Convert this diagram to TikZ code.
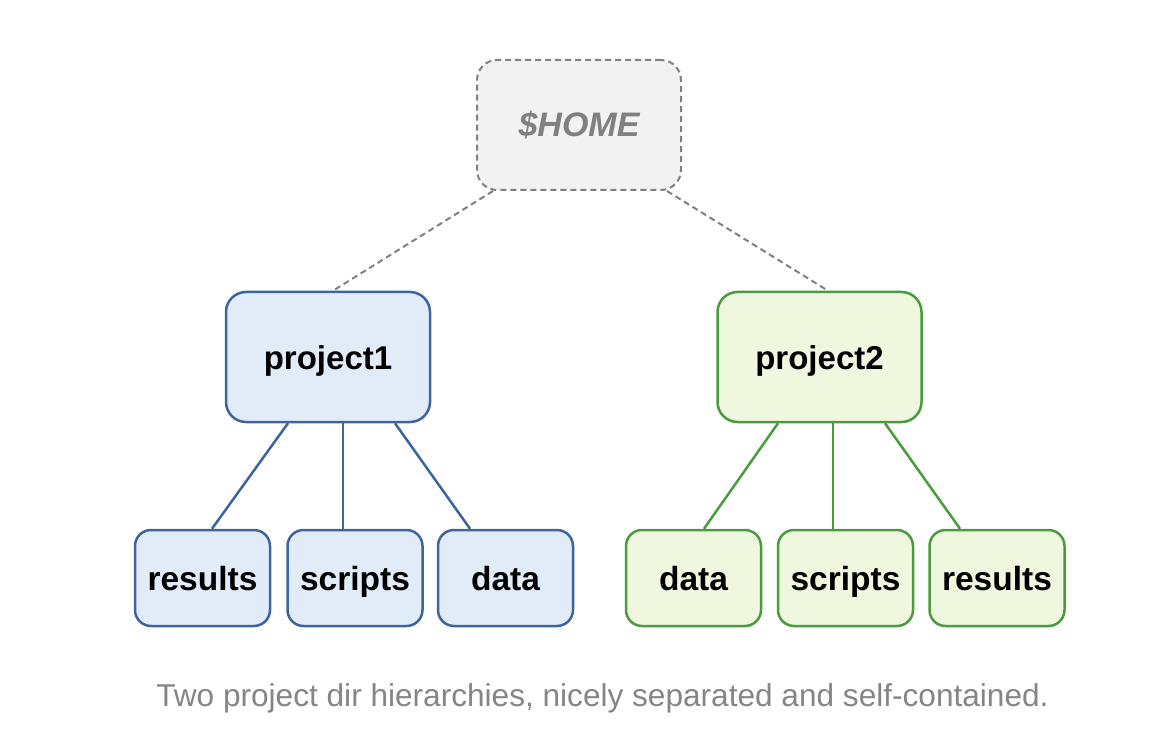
\documentclass[tikz,border=0pt]{standalone}
\usepackage{fontspec}
\setmainfont{Liberation Sans}
\usetikzlibrary{calc}
\definecolor{bstroke}{HTML}{3D64A0}
\definecolor{bfill}{HTML}{E1ECF8}
\definecolor{gstroke}{HTML}{4A9A3E}
\definecolor{gfill}{HTML}{EFF8DF}
\definecolor{hstroke}{HTML}{808080}
\definecolor{hfill}{HTML}{F2F2F2}
\definecolor{captxt}{HTML}{858585}
\tikzset{
  homebox/.style={draw=hstroke, fill=hfill, line width=2pt, dash pattern=on 6pt off 4pt, rounded corners=20pt, minimum width=204pt, minimum height=130pt, inner sep=0pt, text height=23pt, text depth=0pt, font=\fontsize{34}{36}\selectfont\bfseries\itshape, text=hstroke},
  projbox/.style={line width=2.5pt, rounded corners=20pt, minimum width=204pt, minimum height=130pt, inner sep=0pt, text height=24pt, text depth=0pt, font=\fontsize{33}{36}\selectfont\bfseries},
  leafbox/.style={line width=2.5pt, rounded corners=16pt, minimum width=135pt, minimum height=96pt, inner sep=0pt, text height=24pt, text depth=0pt, font=\fontsize{33.5}{36}\selectfont\bfseries},
  blue/.style={draw=bstroke, fill=bfill},
  green/.style={draw=gstroke, fill=gfill},
  bline/.style={draw=bstroke, line width=2.5pt},
  gline/.style={draw=gstroke, line width=2.5pt},
  hline/.style={draw=hstroke, line width=2pt, dash pattern=on 6pt off 4pt},
}
\begin{document}
\begin{tikzpicture}[x=1pt,y=-1pt]
\useasboundingbox (0,0) rectangle (1152,754);
\node[homebox] (home) at (579,125) {\$HOME};
\node[projbox,blue] (p1) at (328,357) {project1};
\node[projbox,green] (p2) at (819.5,357) {project2};
\node[leafbox,blue] (r1) at (202.5,578) {results};
\node[leafbox,blue] (s1) at (355,578) {scripts};
\node[leafbox,blue] (d1) at (505.5,578) {data};
\node[leafbox,green] (d2) at (693.5,578) {data};
\node[leafbox,green] (s2) at (845.5,578) {scripts};
\node[leafbox,green] (r2) at (997,578) {results};
\node[text=captxt, font=\fontsize{31.6}{34}\selectfont, inner sep=0pt] (cap) at (602.5,698) {Two project dir hierarchies, nicely separated and self-contained.};
% home edges
\draw[hline] ($(home.south)+(-86,0)$) -- ($(p1.north)+(5,0)$);
\draw[hline] ($(home.south)+(88,0)$) -- ($(p2.north)+(8.5,0)$);
% project1 edges
\draw[bline] ($(p1.south)+(-40,0)$) -- ($(r1.north)+(9.5,0)$);
\draw[bline] ($(p1.south)+(15,0)$) -- ($(s1.north)+(-12,0)$);
\draw[bline] ($(p1.south)+(67,0)$) -- ($(d1.north)+(-35.5,0)$);
% project2 edges
\draw[gline] ($(p2.south)+(-41.5,0)$) -- ($(d2.north)+(10.5,0)$);
\draw[gline] ($(p2.south)+(13.5,0)$) -- ($(s2.north)+(-12.5,0)$);
\draw[gline] ($(p2.south)+(65.5,0)$) -- ($(r2.north)+(-37,0)$);
\end{tikzpicture}
\end{document}
